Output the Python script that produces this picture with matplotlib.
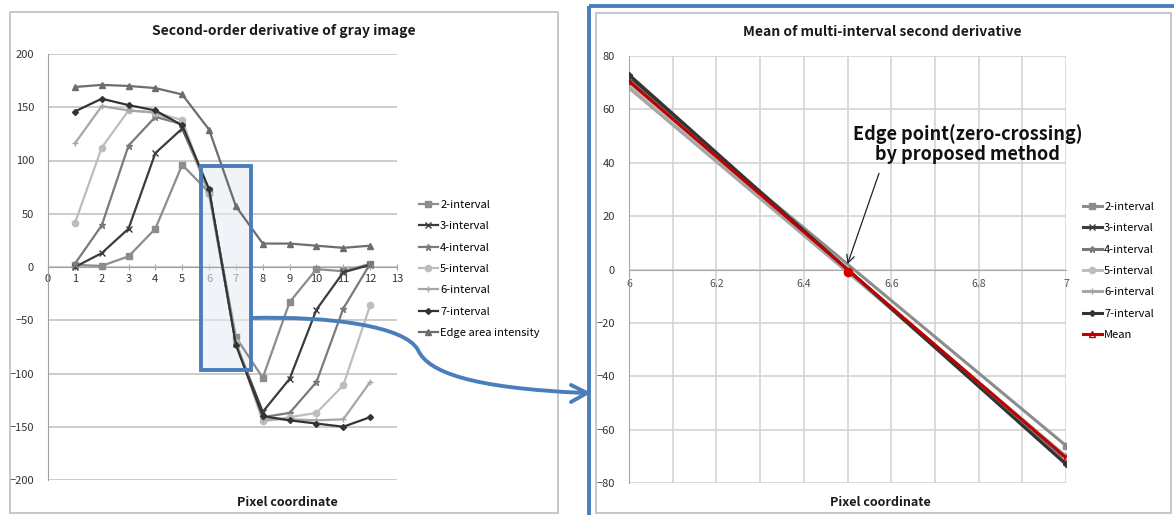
import numpy as np
import matplotlib
matplotlib.use("Agg")
import matplotlib.pyplot as plt
from matplotlib.patches import Rectangle, PathPatch
from matplotlib.path import Path
from matplotlib.ticker import MultipleLocator, FuncFormatter

plt.rcParams["font.family"] = ["Noto Sans CJK KR", "DejaVu Sans"]

# pixel positions along the profile
pixels = [1, 2, 3, 4, 5, 6, 7, 8, 9, 10, 11, 12]

# second-order derivative for each interval width
interval_2 = [2, 1, 10, 36, 96, 70, -66, -104, -33, -2, -4, 3]
interval_3 = [0, 13, 36, 107, 130, 72, -72, -136, -105, -40, -5, 2]
interval_4 = [3, 39, 114, 141, 134, 71, -72, -141, -137, -108, -39, 3]
interval_5 = [41, 112, 147, 145, 138, 69, -70, -145, -141, -137, -111, -36]
interval_6 = [116, 151, 147, 145, 133, 68, -70, -143, -143, -144, -143, -108]
interval_7 = [146, 158, 152, 147, 133, 73, -73, -140, -144, -147, -150, -141]
edge_intensity = [169, 171, 170, 168, 162, 129, 57, 22, 22, 20, 18, 20]

labels = ["2-interval", "3-interval", "4-interval", "5-interval",
          "6-interval", "7-interval"]
series = [interval_2, interval_3, interval_4, interval_5, interval_6, interval_7]
colors = ["#8c8c8c", "#3c3c3c", "#7a7a7a", "#bdbdbd", "#a6a6a6", "#333333"]
markers = ["s", "x", "*", "o", "+", "D"]
msizes = [4.5, 4.5, 5, 4.5, 5, 3]

# zoomed window between pixel 6 and 7
zoom_x = [6, 7]

W, H = 1174, 515
fig = plt.figure(figsize=(W / 100, H / 100), dpi=100)
fig.patch.set_facecolor("white")

TICK_COLOR = "#333333"
GRID_COLOR = "#c4c4c4"


def px_axes(x0, y_top, x1, y_bottom):
    return [x0 / W, (H - y_bottom) / H, (x1 - x0) / W, (y_bottom - y_top) / H]


# ---------------- left chart ----------------
ax1 = fig.add_axes(px_axes(48, 54, 397, 480))
ax1.set_xlim(0, 13)
ax1.set_ylim(-200, 200)
ax1.set_yticks(np.arange(-200, 201, 50))
ax1.set_xticks(np.arange(0, 14, 1))
ax1.yaxis.grid(True, color=GRID_COLOR, lw=1.2)
ax1.set_axisbelow(True)
for s in ["top", "right"]:
    ax1.spines[s].set_visible(False)
ax1.spines["bottom"].set_position(("data", 0))
ax1.spines["bottom"].set_color("#a0a0a0")
ax1.spines["left"].set_color("#a0a0a0")
ax1.tick_params(axis="x", direction="inout", length=4, color="#a0a0a0",
                labelsize=8, labelcolor=TICK_COLOR, pad=3)
ax1.tick_params(axis="y", length=0, labelsize=8, labelcolor=TICK_COLOR, pad=10)

# highlighted window (fill below lines, frame on top)
ax1.add_patch(Rectangle((5.7, -97), 1.86, 192, facecolor="#e6edf6",
                        edgecolor="none", alpha=0.6, zorder=1))
ax1.add_patch(Rectangle((5.7, -97), 1.86, 192, facecolor="none",
                        edgecolor="#4a7ebb", lw=2.8, zorder=6))

for lab, ys, c, m, ms in zip(labels, series, colors, markers, msizes):
    ax1.plot(pixels, ys, color=c, lw=1.6, marker=m, ms=ms,
             mec=c, mfc=c, label=lab, zorder=3)
ax1.plot(pixels, edge_intensity, color="#6d6d6d", lw=1.6, marker="^",
         ms=4.5, mec="#6d6d6d", mfc="#6d6d6d",
         label="Edge area intensity", zorder=3)

ax1.legend(loc="upper left", bbox_to_anchor=(419 / W, 1 - 200 / H),
           bbox_transform=fig.transFigure, frameon=False, fontsize=8,
           labelspacing=1.02, handlelength=1.7, handletextpad=0.2,
           borderaxespad=0, borderpad=0)

fig.text(284 / W, 1 - 31 / H, "Second-order derivative of gray image",
         ha="center", va="center", fontsize=10, fontweight="bold",
         color="#1a1a1a")
fig.text(287 / W, 1 - 502 / H, "Pixel coordinate", ha="center",
         va="center", fontsize=9, fontweight="bold", color="#1a1a1a")

# ---------------- right chart ----------------
ax2 = fig.add_axes(px_axes(629, 56, 1066, 483))
ax2.set_xlim(6, 7)
ax2.set_ylim(-80, 80)
ax2.set_yticks(np.arange(-80, 81, 20))
ax2.xaxis.set_major_locator(MultipleLocator(0.2))
ax2.xaxis.set_minor_locator(MultipleLocator(0.1))
ax2.xaxis.set_major_formatter(FuncFormatter(lambda v, p: f"{v:g}"))
ax2.grid(True, which="both", color="#d4d4d4", lw=1.2)
ax2.set_axisbelow(True)
for s in ["top", "right"]:
    ax2.spines[s].set_visible(False)
ax2.spines["bottom"].set_position(("data", 0))
ax2.spines["bottom"].set_color("#a8a8a8")
ax2.spines["left"].set_color("#a8a8a8")
ax2.tick_params(axis="x", which="both", length=0, labelsize=7.5,
                labelcolor="#5a5048", pad=7)
ax2.tick_params(axis="y", length=0, labelsize=8, labelcolor=TICK_COLOR, pad=10)

for lab, ys, c, m, ms in zip(labels, series, colors, markers, msizes):
    seg = ys[5:7]
    ax2.plot(zoom_x, seg, color=c, lw=2.2, marker=m, ms=ms, mec=c, mfc=c,
             label=lab, zorder=3)

mean_seg = np.mean([ys[5:7] for ys in series], axis=0)
ax2.plot(zoom_x, mean_seg, color="#c00000", lw=2.2, marker="^", ms=5,
         mec="#c00000", mfc="none", label="Mean", zorder=4)

# zero crossing of the mean line
x_zero = zoom_x[0] + mean_seg[0] / (mean_seg[0] - mean_seg[1])
ax2.plot([x_zero], [-1], "o", color="#d00000", ms=6, zorder=5)

ax2.legend(loc="upper left", bbox_to_anchor=(1083 / W, 1 - 202 / H),
           bbox_transform=fig.transFigure, frameon=False, fontsize=8,
           labelspacing=1.02, handlelength=1.7, handletextpad=0.2,
           borderaxespad=0, borderpad=0)

ax2.annotate("", xy=(x_zero, 2), xytext=(6.572, 36),
             arrowprops=dict(arrowstyle="->", color="#222222", lw=0.9,
                             shrinkA=0, shrinkB=0, mutation_scale=14),
             zorder=7)
ax2.text(6.775, 47, "Edge point(zero-crossing)\nby proposed method",
         ha="center", va="center", fontsize=13, fontweight="bold",
         color="#111111", linespacing=1.1, zorder=7)

fig.text(882 / W, 1 - 32 / H, "Mean of multi-interval second derivative",
         ha="center", va="center", fontsize=10, fontweight="bold",
         color="#1a1a1a")
fig.text(880 / W, 1 - 502 / H, "Pixel coordinate", ha="center",
         va="center", fontsize=9, fontweight="bold", color="#1a1a1a")

# ---------------- frames and connector ----------------
ov = fig.add_axes([0, 0, 1, 1], zorder=10)
ov.set_xlim(0, W)
ov.set_ylim(H, 0)
ov.axis("off")
ov.patch.set_alpha(0)

ov.add_patch(Rectangle((10, 12), 548, 501, fill=False, ec="#bdbdbd", lw=1.2))
ov.add_patch(Rectangle((596, 13), 575, 500, fill=False, ec="#bdbdbd", lw=1.2))
ov.add_patch(Rectangle((589, 6), 600, 520, fill=False, ec="#4a7ebb", lw=2.8))

curve = Path([(251, 318), (330, 316), (405, 326), (418, 350),
              (428, 372), (470, 388), (585, 393)],
             [Path.MOVETO, Path.CURVE4, Path.CURVE4, Path.CURVE4,
              Path.CURVE4, Path.CURVE4, Path.CURVE4])
ov.add_patch(PathPatch(curve, fill=False, ec="#4a7ebb", lw=2.8,
                       capstyle="round"))
ov.plot([571, 587, 571], [385, 393, 402], color="#4a7ebb", lw=2.8,
        solid_capstyle="round", solid_joinstyle="round")

fig.savefig("out.png", dpi=100)
